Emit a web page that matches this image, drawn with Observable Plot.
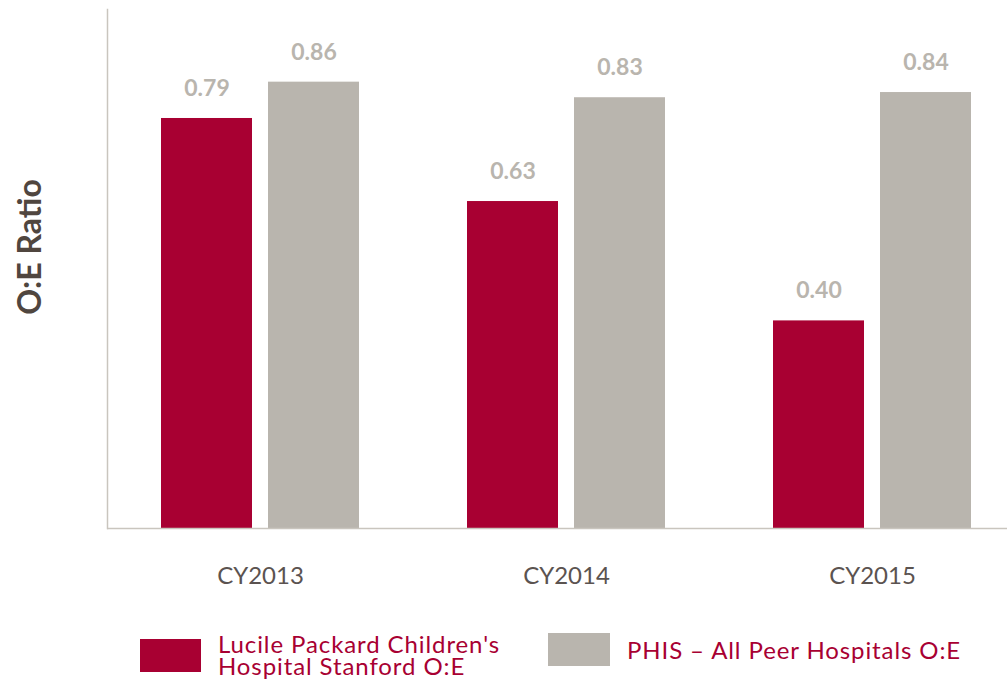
<!DOCTYPE html>
<html>
<head>
<meta charset="utf-8">
<script src="https://cdn.jsdelivr.net/npm/d3@7"></script>
<script src="https://cdn.jsdelivr.net/npm/@observablehq/plot@0.6"></script>
<style>
  html, body { margin: 0; padding: 0; background: #fff; }
  body { width: 1007px; height: 679px; overflow: hidden; font-family: Lato, "Open Sans", sans-serif; }
  #chart svg { display: block; }
  .legend { position: relative; height: 79px; }
  .item { position: absolute; display: flex; align-items: center; color: #a80032; font-size: 24px; line-height: 22px; letter-spacing: 0.9px; }
  .sw { flex: none; height: 33px; margin-right: 17px; }
</style>
</head>
<body>
<div id="chart"></div>
<div class="legend">
  <div class="item" id="leg1" style="left:140px; top:33px;"><span class="sw" style="width:61px;background:#a80032"></span><span id="t1"></span></div>
  <div class="item" id="leg2" style="left:548px; top:33px;"><span class="sw" style="width:62px;background:#b9b5ae"></span><span id="t2"></span></div>
</div>
<script>
const years = ["CY2013", "CY2014", "CY2015"];
const lpch = [0.79, 0.63, 0.40];
const phis = [0.86, 0.83, 0.84];
const seriesNames = [["Lucile Packard Children's", "Hospital Stanford O:E"], ["PHIS – All Peer Hospitals O:E"]];
const yLabel = "O:E Ratio";

const red = "#a80032";
const gray = "#b9b5ae";
const axisColor = "#c9c5be";

const data = years.map((y, i) => ({year: y, lpch: lpch[i], phis: phis[i]}));

const chart = Plot.plot({
  width: 1007,
  height: 600,
  marginLeft: 107,
  marginRight: 0,
  marginTop: 9,
  marginBottom: 72,
  style: {fontFamily: "Lato, 'Open Sans', sans-serif", background: "#fff"},
  x: {domain: years, range: [107, 1025], paddingInner: 108 / 306, paddingOuter: 54 / 306, label: null},
  y: {domain: [0, 1], axis: null},
  marks: [
    Plot.barY(data, {x: "year", y: "lpch", fill: red, insetRight: 107}),
    Plot.barY(data, {x: "year", y: "phis", fill: gray, insetLeft: 107}),
    Plot.text(data, {x: "year", y: "lpch", text: d => d.lpch.toFixed(2), dx: -53.5, dy: -30, fill: gray, fontSize: 23, fontWeight: 700}),
    Plot.text(data, {x: "year", y: "phis", text: d => d.phis.toFixed(2), dx: 53.5, dy: -30, fill: gray, fontSize: 23, fontWeight: 700}),
    Plot.ruleY([0], {stroke: axisColor, strokeWidth: 1.5}),
    Plot.frame({anchor: "left", stroke: axisColor, strokeWidth: 1.5}),
    Plot.axisX({tickSize: 0, tickPadding: 38, fontSize: 24, color: "#5b5350", fill: "#5b5350"}),
    Plot.text([yLabel], {frameAnchor: "left", textAnchor: "middle", dx: -77, dy: -22, rotate: -90, fontSize: 32, fontWeight: 700, fill: "#50463f"})
  ]
});
document.getElementById("chart").appendChild(chart);

const t1 = document.getElementById("t1");
seriesNames[0].forEach((line, i) => {
  if (i) t1.appendChild(document.createElement("br"));
  t1.appendChild(document.createTextNode(line));
});
document.getElementById("t2").textContent = seriesNames[1].join(" ");
</script>
</body>
</html>
